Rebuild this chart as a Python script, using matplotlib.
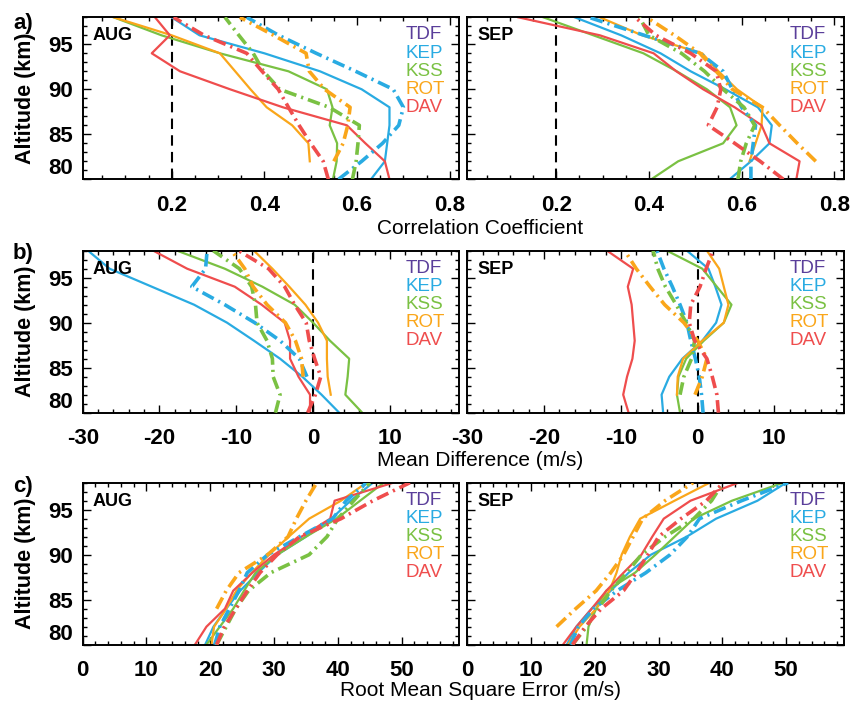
import numpy as np
import matplotlib.pyplot as plt
from matplotlib.ticker import MultipleLocator

plt.rcParams['font.family'] = ['Liberation Sans', 'DejaVu Sans']

nan = np.nan

# altitude grid (km), shared by every profile
alt = [80, 82, 84, 86, 88, 90, 92, 94, 96, 98]

stations = ['TDF', 'KEP', 'KSS', 'ROT', 'DAV']
colors = ['#5A3E9A', '#29ABE2', '#7AC143', '#FAA61A', '#EF4D4D']

# rows below: KEP, KSS, ROT, DAV (TDF has no profile)
cc_aug_solid = [
    [0.63, 0.66, 0.665, 0.67, 0.67, 0.61, 0.52, 0.40, 0.26, 0.20],
    [0.548, 0.556, 0.557, 0.541, 0.547, 0.535, 0.452, 0.304, 0.178, 0.075],
    [nan, 0.498, 0.495, 0.46, 0.405, 0.37, 0.337, 0.304, 0.20, 0.075],
    [0.67, 0.66, 0.618, 0.578, 0.44, 0.326, 0.218, 0.157, 0.196, 0.164],
]
cc_aug_dashdot = [
    [0.56, 0.61, 0.655, 0.69, 0.70, 0.678, 0.597, 0.512, 0.431, 0.362],
    [0.59, 0.598, 0.602, 0.605, 0.54, 0.433, 0.398, 0.376, 0.345, 0.315],
    [nan, 0.55, 0.57, 0.58, 0.585, 0.53, 0.497, 0.49, 0.42, 0.347],
    [0.538, 0.527, 0.50, 0.475, 0.452, 0.43, 0.395, 0.362, 0.27, 0.204],
]
cc_sep_solid = [
    [0.574, 0.62, 0.66, 0.665, 0.635, 0.565, 0.49, 0.425, 0.34, 0.24],
    [0.405, 0.463, 0.56, 0.589, 0.575, 0.525, 0.46, 0.388, 0.28, 0.172],
    [nan, 0.617, 0.63, 0.643, 0.645, 0.59, 0.55, 0.515, 0.385, 0.294],
    [0.718, 0.725, 0.66, 0.643, 0.585, 0.517, 0.459, 0.41, 0.294, 0.118],
]
cc_sep_dashdot = [
    [0.62, 0.62, 0.625, 0.63, 0.60, 0.58, 0.56, 0.51, 0.39, 0.27],
    [0.592, 0.598, 0.61, 0.628, 0.605, 0.56, 0.52, 0.47, 0.40, 0.38],
    [nan, 0.76, 0.72, 0.682, 0.645, 0.58, 0.545, 0.51, 0.455, 0.395],
    [0.69, 0.64, 0.585, 0.528, 0.547, 0.555, 0.545, 0.49, 0.415, 0.37],
]

md_aug_solid = [
    [3.4, 1.1, -1.4, -4.3, -7.7, -11.2, -15.5, -21, -26.5, -29.3],
    [6.4, 4.2, 4.5, 4.7, 2.2, 0, -2.4, -6.6, -11.5, -17.7],
    [nan, 2.3, 1.9, 1.8, 1.8, 0.65, -1, -3.1, -5.3, -7.7],
    [-0.4, -0.4, -1.9, -3, -3, -3.7, -6.7, -10.2, -16.4, -20.8],
]
md_aug_dashdot = [
    [nan, nan, -0.8, -1.8, -4.3, -7.6, -11.5, -15.8, -14, -13.8],
    [-4.9, -4.3, -5.2, -5.3, -6, -7.3, -7.5, -8, -9.6, -13],
    [nan, nan, -1.3, -1.5, -2.3, -3.6, -6, -7.8, -8.9, -10.6],
    [-0.7, 0.3, 1.0, 0.2, -0.5, -0.9, -2.4, -3.7, -5.8, -9.7],
]
md_sep_solid = [
    [-4.5, -4.7, -3.7, -2, 0.6, 2.4, 3.1, 2.3, 1.4, -1.4],
    [-2.3, -2.7, -2.5, -1.5, 0.8, 3.4, 4.4, 2.5, 0.6, -4],
    [nan, -2.7, -2.6, -1.9, 0.6, 3.4, 4.0, 3.4, 2.8, 1.2],
    [-9.0, -9.7, -9.2, -8.5, -8.2, -8.4, -8.6, -9.1, -8.4, -11.8],
]
md_sep_dashdot = [
    [0.7, 0.5, 0.2, -0.3, -0.9, -1.4, -2.3, -3.3, -4.4, -5.3],
    [nan, -2.3, -1.8, -0.8, -0.4, -1.5, -2.8, -4.2, -5.2, -5.8],
    [nan, -0.35, 0.6, 1.2, 0, -1.8, -4.3, -6.2, -8, -9.5],
    [2.7, 2.5, 1.9, 1.2, -0.4, -1.1, -0.9, 0.3, 1.1, 2.0],
]

rmse_aug_solid = [
    [19.2, 20.5, 22.5, 24.7, 27.5, 30.5, 35, 39, 42, 45.5],
    [19.4, 21.5, 23.6, 25.3, 27.1, 30.5, 35, 39.8, 43.5, 47.2],
    [20.2, 20.6, 22.5, 24.1, 26.5, 29.2, 32.3, 35.5, 40.5, 44.5],
    [17.6, 19.4, 22.3, 23.6, 26.6, 30, 34.3, 38.8, 39.5, 48.7],
]
rmse_aug_dashdot = [
    [20.7, 21.5, 23, 24.5, 25.8, 29, 34, 39.2, 41.3, 44.5],
    [21, 22.5, 24, 26, 29.5, 35.5, 38.3, 40, 42.5, 45],
    [nan, nan, 21, 22.5, 24.5, 29, 32.2, 33.5, 35, 36.7],
    [21, 22.2, 24, 25.8, 27.8, 30.5, 34, 40.5, 45.5, 51.3],
]
rmse_sep_solid = [
    [15.6, 17.1, 19.5, 22.5, 25.3, 28.8, 34.4, 39, 45.5, 50],
    [18.7, 19, 20.2, 21.8, 26.3, 29.5, 32.5, 35.5, 41.5, 49.5],
    [15.8, 17.6, 20.2, 22.3, 23.4, 24.2, 25.5, 27.1, 32.5, 38],
    [15, 17.1, 19.5, 21.8, 24.5, 27.3, 29, 30.8, 35, 42.5],
]
rmse_sep_dashdot = [
    [16.2, 17.4, 19.8, 23.5, 28, 31.8, 34.5, 36.4, 43, 50.3],
    [16.5, 18.7, 20.5, 22.5, 25, 27.3, 31, 35.5, 38.3, 40.1],
    [nan, 14, 17, 20.2, 22.5, 24.5, 26, 27.5, 31, 35.4],
    [16.5, 18.5, 21, 24.5, 26.5, 28.3, 30, 33.5, 37.5, 40.1],
]

rows = [
    dict(data=[(cc_aug_solid, cc_aug_dashdot), (cc_sep_solid, cc_sep_dashdot)],
         xlim=(0.008, 0.82), xticks=[0.2, 0.4, 0.6, 0.8], minor=0.05, ref=0.2,
         fmt='{:.1f}', xlabel='Correlation Coefficient', tag='a)'),
    dict(data=[(md_aug_solid, md_aug_dashdot), (md_sep_solid, md_sep_dashdot)],
         xlim=(-30, 19), xticks=[-30, -20, -10, 0, 10], minor=2, ref=0,
         fmt='{:d}', xlabel='Mean Difference (m/s)', tag='b)'),
    dict(data=[(rmse_aug_solid, rmse_aug_dashdot), (rmse_sep_solid, rmse_sep_dashdot)],
         xlim=(0, 59), xticks=[0, 10, 20, 30, 40, 50], minor=2, ref=None,
         fmt='{:d}', xlabel='Root Mean Square Error (m/s)', tag='c)'),
]
months = ['AUG', 'SEP']

fig = plt.figure(figsize=(8.59, 7.05), dpi=100)

W, H = 859, 705
lefts = [82.7, 467.3]
tops = [17.3, 250.7, 482.7]
aw, ah = 376.3, 162.0
xlabel_y = [228, 460, 690]
tag_y = [29, 259, 492]

for r, row in enumerate(rows):
    for c in range(2):
        ax = fig.add_axes([lefts[c] / W, 1 - (tops[r] + ah) / H, aw / W, ah / H])
        solid, dashdot = row['data'][c]
        if row['ref'] is not None:
            ax.axvline(row['ref'], color='black', lw=1.5, ls=(0, (5, 3)), zorder=1)
        for k in range(4):
            ax.plot(solid[k], alt, color=colors[k + 1], lw=1.6, zorder=2)
        for k in range(4):
            ax.plot(dashdot[k], alt, color=colors[k + 1], lw=2.6,
                    ls=(0, (3.5, 1.4, 0.6, 1.4)), zorder=3)

        ax.set_xlim(*row['xlim'])
        ax.set_ylim(80, 98)
        ax.set_xticks(row['xticks'])
        ax.set_xticklabels([row['fmt'].format(t) for t in row['xticks']],
                           fontsize=16, fontweight='bold')
        ax.xaxis.set_minor_locator(MultipleLocator(row['minor']))
        ax.set_yticks([80, 85, 90, 95])
        ax.yaxis.set_minor_locator(MultipleLocator(1))
        if c == 0:
            labs = ax.set_yticklabels(['80', '85', '90', '95'], fontsize=16, fontweight='bold')
            labs[0].set_verticalalignment('bottom')
        else:
            ax.set_yticklabels([])
        ax.tick_params(which='both', direction='in', top=True, right=True, width=1.0)
        ax.tick_params(which='major', length=5.5)
        ax.tick_params(which='minor', length=3)
        ax.tick_params(axis='x', which='major', pad=11)
        ax.tick_params(axis='y', which='major', pad=7)
        for sp in ax.spines.values():
            sp.set_linewidth(1.4)

        ax.text(0.027, 0.885, months[c], transform=ax.transAxes, fontsize=13,
                fontweight='bold', va='center', ha='left')
        for i, name in enumerate(stations):
            ax.text(0.857, 0.891 - i * 0.112, name, transform=ax.transAxes,
                    fontsize=13.5, color=colors[i], va='center', ha='left')

    fig.text(25 / W, 1 - (tops[r] + ah / 2) / H, 'Altitude (km)', rotation=90,
             fontsize=15.5, fontweight='bold', ha='center', va='center')
    fig.text(0.559, 1 - xlabel_y[r] / H, row['xlabel'], fontsize=15,
             ha='center', va='center')
    fig.text(0.015, 1 - tag_y[r] / H, row['tag'], fontsize=16, fontweight='bold',
             ha='left', va='baseline')

fig.savefig('out.png', dpi=100)
